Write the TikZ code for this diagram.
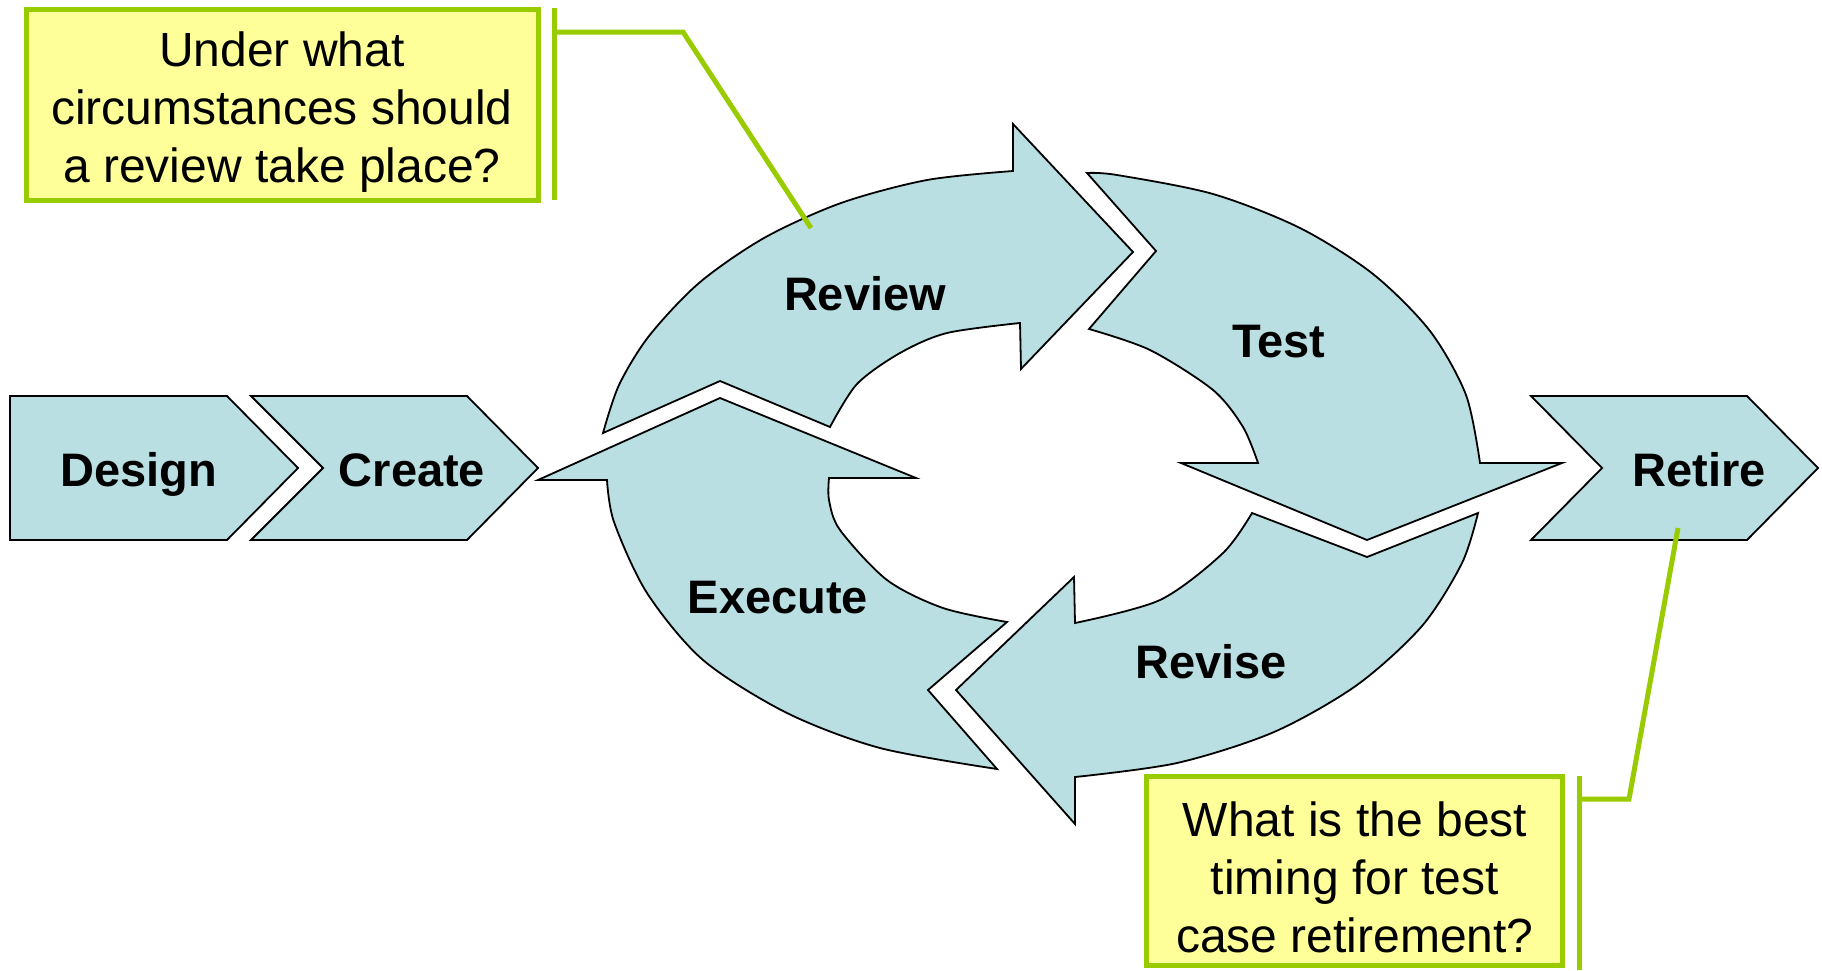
\documentclass[tikz,border=0pt]{standalone}
\usepackage{fontspec}
\setmainfont{Liberation Sans}
\definecolor{arrowfill}{RGB}{185,223,227}
\definecolor{callfill}{RGB}{255,255,153}
\definecolor{callline}{RGB}{153,204,0}
\begin{document}
\begin{tikzpicture}[x=1pt,y=-1pt,
  arrowshape/.style={fill=arrowfill, draw=black, line width=1.8pt, line join=miter},
  lbl/.style={font=\fontsize{47}{56}\selectfont\bfseries, anchor=base, inner sep=0pt},
  callbox/.style={draw=callline, fill=callfill, line width=5pt, inner sep=0pt},
  calltext/.style={font=\fontsize{48}{57.8}\selectfont, align=center, inner sep=0pt},
  leader/.style={draw=callline, line width=5pt}]
\useasboundingbox (0,0) rectangle (1822,970);

% linear chevrons
\path[arrowshape] (10,396) -- (227,396) -- (298,468) -- (227,540) -- (10,540) -- cycle;
\path[arrowshape] (251,396) -- (467,396) -- (538,468) -- (467,540) -- (251,540) -- (323,468) -- cycle;
\path[arrowshape] (1531,396) -- (1747,396) -- (1818,468) -- (1747,540) -- (1531,540) -- (1602,468) -- cycle;

% Review arrow
\path[arrowshape] (603,433) -- (720,381) -- (830,427)
  -- plot[smooth] coordinates {(830,427) (857,384) (900,353) (947,333) (1020,323)}
  -- (1021,369) -- (1133,252) -- (1013,124) -- (1013,171)
  -- plot[smooth] coordinates {(1013,171) (927,180) (841,203) (764,238) (699,283) (649,336) (619,385) (603,433)}
  -- cycle;
% Test arrow
\path[arrowshape] (1087,173) -- (1156,251) -- (1089,329)
  -- plot[smooth] coordinates {(1089,329) (1150,350) (1213,390) (1243,427) (1258,463)}
  -- (1181,463) -- (1367,540) -- (1562,463) -- (1480,463)
  -- plot[smooth] coordinates {(1480,463) (1466,395) (1430,331) (1373,274) (1300,228) (1213,194) (1117,175) (1087,173)}
  -- cycle;
% Revise arrow
\path[arrowshape] (1478,513) -- (1367,557) -- (1252,513)
  -- plot[smooth] coordinates {(1252,513) (1223,553) (1160,600) (1075,623)}
  -- (1074,577) -- (956,690) -- (1075,824) -- (1075,777)
  -- plot[smooth] coordinates {(1075,777) (1177,763) (1274,732) (1357,685) (1422,626) (1462,563) (1478,513)}
  -- cycle;
% Execute arrow
\path[arrowshape] (997,769) -- (928,690) -- (1007,622)
  -- plot[smooth] coordinates {(1007,622) (943,608) (887,580) (840,530) (829,500) (829,478)}
  -- (916,478) -- (720,398) -- (538,480) -- (607,480)
  -- plot[smooth] coordinates {(607,480) (614,522) (647,593) (703,660) (787,713) (880,748) (997,769)}
  -- cycle;

% labels
\node[lbl] (design) at (138.5,486) {Design};
\node[lbl] (create) at (412,486) {Create};
\node[lbl] (retire) at (1699,486) {Retire};
\node[lbl] (review) at (865,310) {Review};
\node[lbl] (test) at (1279,357) {Test};
\node[lbl] (revise) at (1211,678) {Revise};
\node[lbl] (execute) at (778,613) {Execute};

% callout 1
\node[callbox, minimum width=512pt, minimum height=191pt] (q1) at (282,104.5) {};
\node[calltext] (q1t) at (282,112) {Under what\\circumstances should\\a review take place?};
\coordinate (b1t) at (554,8);
\coordinate (b1b) at (554,200);
\coordinate (b1k) at (683,32);
\coordinate (b1e) at (811,228);
\draw[leader] (b1t) -- (b1b);
\draw[leader] (b1t |- b1k) -- (b1k) -- (b1e);

% callout 2
\node[callbox, minimum width=416pt, minimum height=189pt] (q2) at (1354.5,870.5) {};
\node[calltext] (q2t) at (1355,877.4) {What is the best\\timing for test\\case retirement?};
\coordinate (b2t) at (1579,776);
\coordinate (b2b) at (1579,970);
\coordinate (b2k) at (1629,799);
\coordinate (b2e) at (1678,528);
\draw[leader] (b2t) -- (b2b);
\draw[leader] (b2t |- b2k) -- (b2k) -- (b2e);
\end{tikzpicture}
\end{document}
